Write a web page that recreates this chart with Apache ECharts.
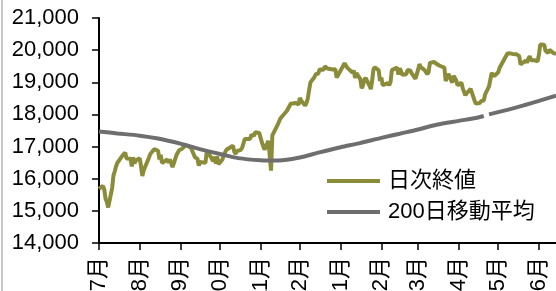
<!DOCTYPE html>
<html>
<head>
<meta charset="utf-8">
<script src="https://cdn.jsdelivr.net/npm/echarts@6/dist/echarts.min.js"></script>
<style>
html, body { margin: 0; padding: 0; background: #fff; }
#chart { width: 556px; height: 291px; }
</style>
</head>
<body>
<div id="chart"></div>
<script>
// 日次終値
var closeDates = [
    '2016-07-01','2016-07-04','2016-07-05','2016-07-06','2016-07-07','2016-07-08','2016-07-11','2016-07-12','2016-07-13','2016-07-14',
    '2016-07-15','2016-07-19','2016-07-20','2016-07-21','2016-07-22','2016-07-25','2016-07-26','2016-07-27','2016-07-28','2016-07-29',
    '2016-08-01','2016-08-02','2016-08-03','2016-08-04','2016-08-05','2016-08-08','2016-08-09','2016-08-10','2016-08-12','2016-08-15',
    '2016-08-16','2016-08-17','2016-08-18','2016-08-19','2016-08-22','2016-08-23','2016-08-24','2016-08-25','2016-08-26','2016-08-29',
    '2016-08-30','2016-08-31',
    '2016-09-01','2016-09-02','2016-09-05','2016-09-06','2016-09-07','2016-09-08','2016-09-09','2016-09-12','2016-09-13','2016-09-14',
    '2016-09-15','2016-09-16','2016-09-20','2016-09-21','2016-09-23','2016-09-26','2016-09-27','2016-09-28','2016-09-29','2016-09-30',
    '2016-10-03','2016-10-04','2016-10-05','2016-10-06','2016-10-07','2016-10-11','2016-10-12','2016-10-13','2016-10-14','2016-10-17',
    '2016-10-18','2016-10-19','2016-10-20','2016-10-21','2016-10-24','2016-10-25','2016-10-26','2016-10-27','2016-10-28','2016-10-31',
    '2016-11-01','2016-11-02','2016-11-04','2016-11-07','2016-11-08','2016-11-09','2016-11-10','2016-11-11','2016-11-14','2016-11-15',
    '2016-11-16','2016-11-17','2016-11-18','2016-11-21','2016-11-22','2016-11-24','2016-11-25','2016-11-28','2016-11-29','2016-11-30',
    '2016-12-01','2016-12-02','2016-12-05','2016-12-06','2016-12-07','2016-12-08','2016-12-09','2016-12-12','2016-12-13','2016-12-14',
    '2016-12-15','2016-12-16','2016-12-19','2016-12-20','2016-12-21','2016-12-22','2016-12-26','2016-12-27','2016-12-28','2016-12-29',
    '2016-12-30',
    '2017-01-04','2017-01-05','2017-01-06','2017-01-10','2017-01-11','2017-01-12','2017-01-13','2017-01-16','2017-01-17','2017-01-18',
    '2017-01-19','2017-01-20','2017-01-23','2017-01-24','2017-01-25','2017-01-26','2017-01-27','2017-01-30','2017-01-31',
    '2017-02-01','2017-02-02','2017-02-03','2017-02-06','2017-02-07','2017-02-08','2017-02-09','2017-02-10','2017-02-13','2017-02-14',
    '2017-02-15','2017-02-16','2017-02-17','2017-02-20','2017-02-21','2017-02-22','2017-02-23','2017-02-24','2017-02-27','2017-02-28',
    '2017-03-01','2017-03-02','2017-03-03','2017-03-06','2017-03-07','2017-03-08','2017-03-09','2017-03-10','2017-03-13','2017-03-14',
    '2017-03-15','2017-03-16','2017-03-17','2017-03-21','2017-03-22','2017-03-23','2017-03-24','2017-03-27','2017-03-28','2017-03-29',
    '2017-03-30','2017-03-31',
    '2017-04-03','2017-04-04','2017-04-05','2017-04-06','2017-04-07','2017-04-10','2017-04-11','2017-04-12','2017-04-13','2017-04-14',
    '2017-04-17','2017-04-18','2017-04-19','2017-04-20','2017-04-21','2017-04-24','2017-04-25','2017-04-26','2017-04-27','2017-04-28',
    '2017-05-01','2017-05-02','2017-05-08','2017-05-09','2017-05-10','2017-05-11','2017-05-12','2017-05-15','2017-05-16','2017-05-17',
    '2017-05-18','2017-05-19','2017-05-22','2017-05-23','2017-05-24','2017-05-25','2017-05-26','2017-05-29','2017-05-30','2017-05-31',
    '2017-06-01','2017-06-02','2017-06-05','2017-06-06','2017-06-07','2017-06-08','2017-06-09','2017-06-12','2017-06-13','2017-06-14'
];
var closeValues = [
    15682,15776,15669,15379,15276,15107,15709,16096,16231,16386,
    16497,16724,16682,16811,16627,16620,16384,16665,16477,16569,
    16636,16392,16084,16255,16254,16651,16765,16736,16920,16870,
    16597,16746,16487,16546,16599,16498,16598,16556,16361,16737,
    16726,16887,
    16927,16926,17038,17082,17012,16959,16965,16673,16730,16615,
    16406,16519,16492,16808,16754,16545,16684,16466,16694,16450,
    16599,16736,16820,16900,16860,17025,16841,16774,16856,16901,
    16964,16999,17236,17185,17235,17366,17392,17337,17446,17425,
    17443,17135,16906,17178,17172,16251,17345,17375,17673,17669,
    17863,17863,17968,18107,18163,18334,18382,18357,18308,18309,
    18514,18427,18275,18361,18497,18766,18997,19156,19251,19254,
    19274,19401,19392,19495,19445,19428,19397,19404,19402,19146,
    19114,
    19594,19520,19455,19301,19364,19135,19287,19096,18814,18895,
    19073,19137,18892,18788,19058,19402,19467,19369,19041,
    19149,18914,18918,18977,18911,19008,19379,19379,19459,19239,
    19438,19348,19235,19251,19381,19380,19371,19284,19108,19119,
    19393,19565,19469,19379,19344,19255,19318,19605,19633,19610,
    19577,19590,19522,19456,19041,19085,19263,18986,19203,19217,
    19063,18909,
    18983,18810,18861,18597,18665,18797,18747,18552,18427,18336,
    18355,18418,18432,18430,18620,18875,19079,19289,19252,19197,
    19310,19445,19896,19843,19900,19961,19883,19869,19919,19814,
    19554,19590,19678,19613,19742,19813,19686,19682,19677,19650,
    19860,20177,20170,19980,19984,19909,20013,19908,19898,19883
];

// 200日移動平均 (null = 欠損)
var maDates = [
    '2016-07-01','2016-07-15','2016-08-01','2016-08-15','2016-09-01','2016-09-15','2016-10-01','2016-10-15',
    '2016-11-01','2016-11-15','2016-12-01','2016-12-15','2017-01-01','2017-01-15','2017-02-01','2017-02-15',
    '2017-03-01','2017-03-15','2017-04-01','2017-04-14','2017-04-20','2017-04-21','2017-04-24','2017-05-08',
    '2017-05-22','2017-06-01','2017-06-14'
];
var maValues = [
    17470,17410,17340,17250,17090,16930,16770,16640,
    16575,16565,16660,16810,16980,17100,17270,17400,
    17530,17680,17800,17890,17950,null,18000,18140,
    18300,18420,18580
];

var seriesNames = ['日次終値', '200日移動平均'];
var yMin = 14000, yMax = 21000, yStep = 1000;
var xMin = '2016-07-01', xMax = '2017-06-14';

function toPairs(dates, values) {
    return dates.map(function (d, i) { return [d, values[i]]; });
}

var font = "'Liberation Sans', Arial, 'Noto Sans CJK JP', sans-serif";
var chart = echarts.init(document.getElementById('chart'));

var option = {
    animation: false,
    backgroundColor: '#fff',
    graphic: [{
        type: 'rect',
        left: 1,
        top: 0,
        shape: { width: 2, height: 291 },
        style: { fill: '#c8c8c8' }
    }],
    grid: {
        left: 99,
        right: 0,
        top: 18,
        bottom: 48,
        containLabel: false,
        outerBoundsMode: 'none'
    },
    legend: {
        orient: 'vertical',
        left: 327,
        top: 170,
        padding: 0,
        itemGap: 9,
        itemWidth: 53,
        itemHeight: 4,
        icon: 'rect',
        textStyle: {
            fontSize: 22,
            lineHeight: 22,
            color: '#000',
            fontFamily: font,
            padding: [0, 0, 0, 3]
        },
        data: seriesNames
    },
    xAxis: {
        type: 'time',
        min: xMin,
        max: xMax,
        minInterval: 28 * 86400000,
        maxInterval: 31 * 86400000,
        splitLine: { show: false },
        axisLine: { lineStyle: { color: '#000', width: 2 } },
        axisTick: { show: true, length: 7, lineStyle: { color: '#000', width: 1.5 } },
        axisLabel: {
            rotate: 90,
            margin: 14,
            fontSize: 22,
            color: '#000',
            fontFamily: font,
            showMaxLabel: false,
            formatter: function (v) {
                return (new Date(v).getMonth() + 1) + '月';
            }
        }
    },
    yAxis: {
        type: 'value',
        min: yMin,
        max: yMax,
        interval: yStep,
        splitLine: { show: false },
        axisLine: { show: true, lineStyle: { color: '#000', width: 2 } },
        axisTick: { show: true, length: 7, lineStyle: { color: '#000', width: 1.5 } },
        axisLabel: {
            margin: 20,
            fontSize: 22,
            color: '#000',
            fontFamily: font,
            formatter: function (v) { return v.toLocaleString('en-US'); }
        }
    },
    series: [{
        name: seriesNames[0],
        type: 'line',
        data: toPairs(closeDates, closeValues),
        symbol: 'none',
        lineStyle: { color: '#8a8c3a', width: 4 },
        itemStyle: { color: '#8a8c3a' },
        z: 2
    }, {
        name: seriesNames[1],
        type: 'line',
        data: toPairs(maDates, maValues),
        symbol: 'none',
        smooth: 0.3,
        lineStyle: { color: '#6e6e6e', width: 4 },
        itemStyle: { color: '#6e6e6e' },
        z: 3
    }]
};

chart.setOption(option);
</script>
</body>
</html>
